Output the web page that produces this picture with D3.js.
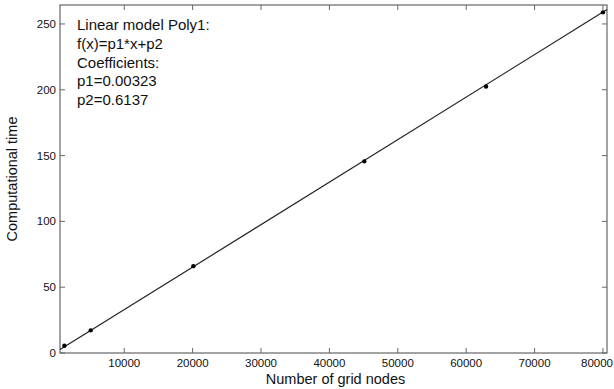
<!DOCTYPE html>
<html>
<head>
<meta charset="utf-8">
<script src="https://cdn.jsdelivr.net/npm/d3@7"></script>
<style>
  body { margin: 0; background: #fff; }
  text { font-family: "Liberation Sans", Arial, sans-serif; fill: #111; }
</style>
</head>
<body>
<script>
// Data
var nodes = [1250, 5100, 20100, 45100, 62900, 80000];
var times = [5.5, 17.2, 66.0, 145.6, 202.5, 258.8];
var xTicks = [10000, 20000, 30000, 40000, 50000, 60000, 70000, 80000];
var yTicks = [0, 50, 100, 150, 200, 250];
var fitText = ["Linear model Poly1:", "f(x)=p1*x+p2", "Coefficients:", "p1=0.00323", "p2=0.6137"];
var p1 = 0.00323, p2 = 0.6137;

var width = 614, height = 389;
var margin = {left: 60, right: 7, top: 5, bottom: 36};

var svg = d3.select("body").append("svg")
    .attr("width", width)
    .attr("height", height);

var x = d3.scaleLinear().domain([608, 80590]).range([margin.left, width - margin.right]);
var y = d3.scaleLinear().domain([0, 264.4]).range([height - margin.bottom, margin.top]);

var axisColor = "#666";
var tl = 5;

// frame
svg.append("rect")
    .attr("x", x.range()[0]).attr("y", y.range()[1])
    .attr("width", x.range()[1] - x.range()[0])
    .attr("height", y.range()[0] - y.range()[1])
    .attr("fill", "none").attr("stroke", axisColor).attr("stroke-width", 1.2);

// x ticks (inward, bottom and top)
xTicks.forEach(function(t) {
    svg.append("line").attr("x1", x(t)).attr("x2", x(t))
        .attr("y1", y.range()[0]).attr("y2", y.range()[0] - tl)
        .attr("stroke", axisColor);
    svg.append("line").attr("x1", x(t)).attr("x2", x(t))
        .attr("y1", y.range()[1]).attr("y2", y.range()[1] + tl)
        .attr("stroke", axisColor);
    var lab = svg.append("text").attr("x", x(t)).attr("y", y.range()[0] + 14)
        .attr("text-anchor", "middle").style("font-size", "11.5px")
        .text(t);
    // keep the last label inside the page
    var w = lab.node().getComputedTextLength();
    if (x(t) + w / 2 > width - 1) lab.attr("x", width - 1 - w / 2);
});

// y ticks
yTicks.forEach(function(t) {
    svg.append("line").attr("x1", x.range()[0]).attr("x2", x.range()[0] + tl)
        .attr("y1", y(t)).attr("y2", y(t)).attr("stroke", axisColor);
    svg.append("line").attr("x1", x.range()[1]).attr("x2", x.range()[1] - tl)
        .attr("y1", y(t)).attr("y2", y(t)).attr("stroke", axisColor);
    svg.append("text").attr("x", x.range()[0] - 4).attr("y", y(t) + 4)
        .attr("text-anchor", "end").style("font-size", "11.5px")
        .text(t);
});

// fitted line
var xd = x.domain();
svg.append("line")
    .attr("x1", x(xd[0])).attr("y1", y(p1 * xd[0] + p2))
    .attr("x2", x(xd[1])).attr("y2", y(p1 * xd[1] + p2))
    .attr("stroke", "#222").attr("stroke-width", 1.2);

// data points
svg.selectAll("circle")
    .data(nodes)
    .enter()
    .append("circle")
    .attr("cx", function(d) { return x(d); })
    .attr("cy", function(d, i) { return y(times[i]); })
    .attr("r", 2.2)
    .attr("fill", "#000");

// annotation
svg.append("g").selectAll("text")
    .data(fitText)
    .enter()
    .append("text")
    .attr("x", 77)
    .attr("y", function(d, i) { return 30 + i * 18.8; })
    .style("font-size", "15px")
    .text(function(d) { return d; });

// axis labels
svg.append("text")
    .attr("x", (x.range()[0] + x.range()[1]) / 2 + 2)
    .attr("y", 384)
    .attr("text-anchor", "middle").style("font-size", "14.5px")
    .text("Number of grid nodes");

svg.append("text")
    .attr("transform", "translate(17," + ((y.range()[0] + y.range()[1]) / 2) + ") rotate(-90)")
    .attr("text-anchor", "middle").style("font-size", "14.5px")
    .text("Computational time");
</script>
</body>
</html>
